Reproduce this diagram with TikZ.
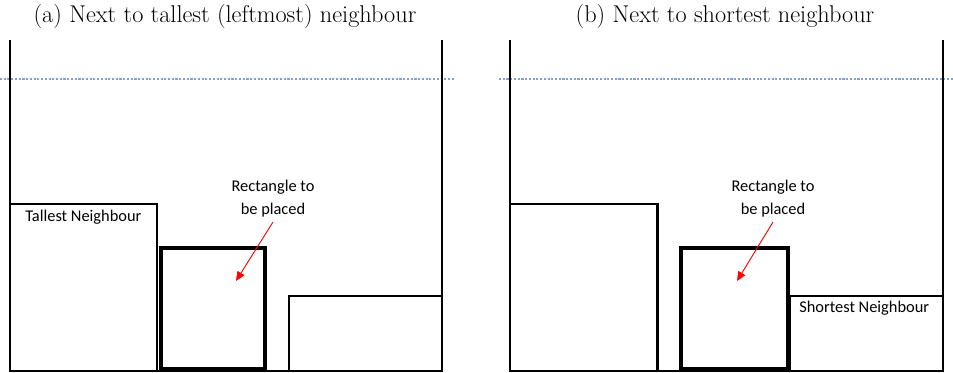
\documentclass[tikz,border=0pt]{standalone}
\usepackage{fontspec}
\newfontfamily\labelfont{Carlito}
\usetikzlibrary{arrows.meta}
\tikzset{
  wall/.style={line width=1.6pt, black},
  block/.style={line width=1.6pt, black},
  placed/.style={line width=3.2pt, black},
  level/.style={line width=0.9pt, color=skyline, dash pattern=on 1.6pt off 1.2pt},
  caption/.style={font=\fontsize{18.2}{21}\selectfont, inner sep=0pt},
  tag/.style={font=\labelfont\fontsize{12.3}{17.25}\selectfont, inner sep=0pt, align=center},
  pointer/.style={red, line width=0.7pt, -{Triangle[length=7pt, width=6pt]}}
}
\definecolor{skyline}{HTML}{7BA3D6}
\begin{document}
\begin{tikzpicture}[x=0.75pt, y=-0.75pt]
  \useasboundingbox (0,0) rectangle (953,372);

  % ---------- (a) next to the tallest neighbour ----------
  \node[caption] (capA) at (225,16) {(a) Next to tallest (leftmost) neighbour};
  \draw[level] (0,79) -- (454,79);
  \draw[wall] (10,40) -- (10,371) -- (442,371) -- (442,40);
  \draw[block] (10,204) rectangle (157,371);
  \draw[block] (289,296) rectangle (442,371);
  \draw[placed] (161,248) rectangle (264.7,369.5);
  \node[tag, anchor=north west] (tallA) at (25,210) {Tallest Neighbour};
  \node[tag] (newA) at (273,199) {Rectangle to\\be placed};
  \coordinate (tipA) at (236,281);
  \draw[pointer] (273,222) -- (tipA);

  % ---------- (b) next to the shortest neighbour ----------
  \node[caption] (capB) at (725,16) {(b) Next to shortest neighbour};
  \draw[level] (499,79) -- (953,79);
  \draw[wall] (510,40) -- (510,371) -- (943,371) -- (943,40);
  \draw[block] (510,204) rectangle (657.5,371);
  \draw[block] (790,296) rectangle (943,371);
  \draw[placed] (681.3,248) rectangle (788,369.5);
  \node[tag, anchor=north west] (shortB) at (799,301) {Shortest Neighbour};
  \node[tag] (newB) at (773,199) {Rectangle to\\be placed};
  \coordinate (tipB) at (737,281);
  \draw[pointer] (773,222) -- (tipB);
\end{tikzpicture}
\end{document}
